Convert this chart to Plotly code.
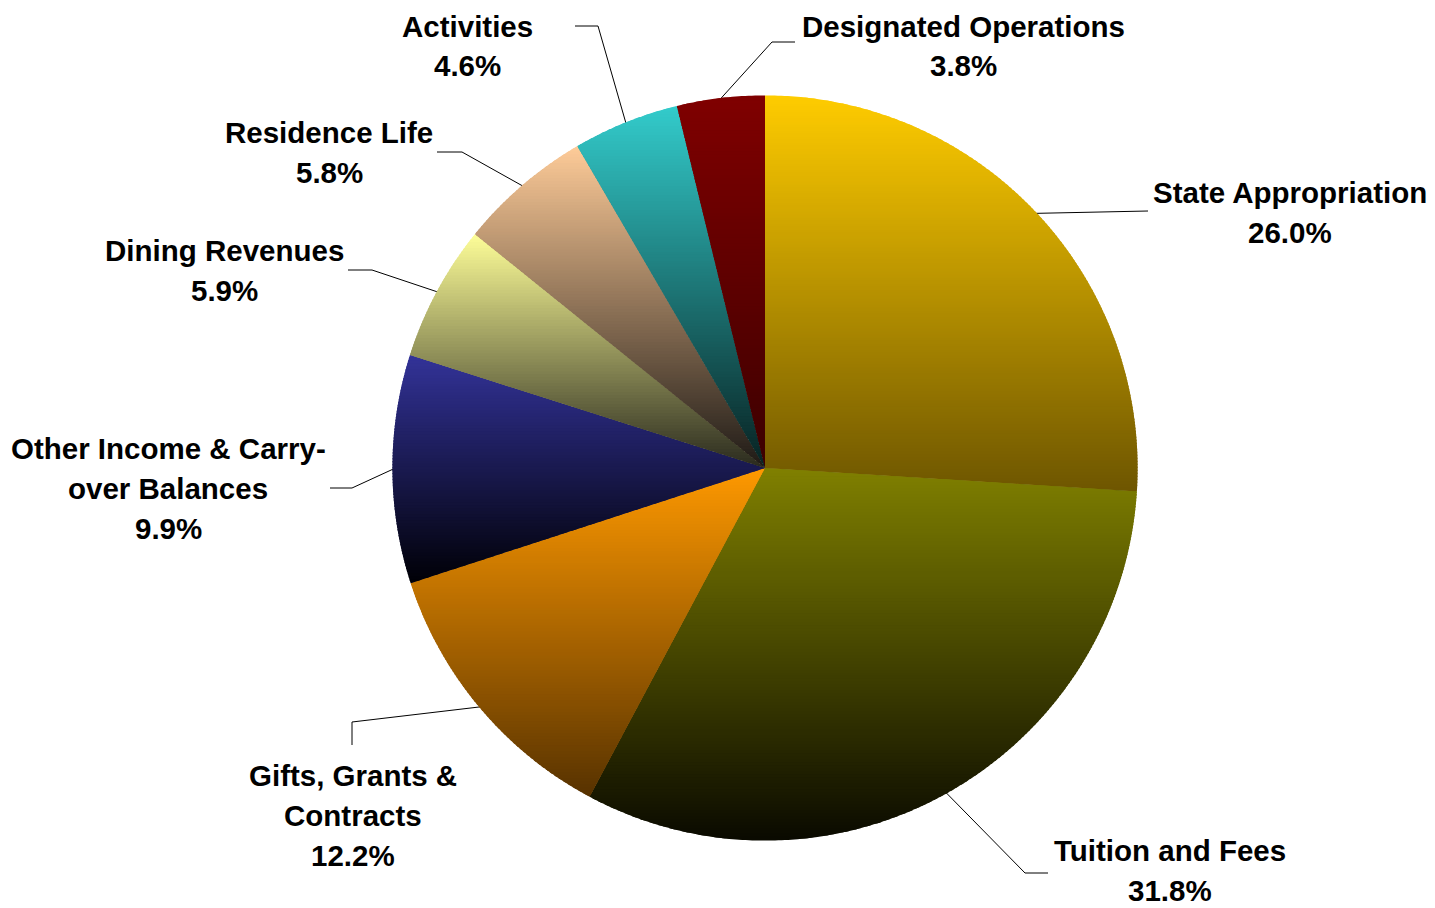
import math
import plotly.graph_objects as go

# ---------------- data ----------------
labels = ["State Appropriation", "Tuition and Fees", "Gifts, Grants & Contracts",
          "Other Income & Carry-over Balances", "Dining Revenues", "Residence Life",
          "Other Auxiliary Activities", "Designated Operations"]
values = [26.0, 31.8, 12.2, 9.9, 5.9, 5.8, 4.6, 3.8]
label_lines = [["State Appropriation"], ["Tuition and Fees"], ["Gifts, Grants &", "Contracts"],
               ["Other Income & Carry-", "over Balances"], ["Dining Revenues"], ["Residence Life"],
               ["Other Auxiliary", "Activities"], ["Designated Operations"]]
top_colors = ["#FFCC00", "#808000", "#FF9900", "#333399", "#FFFF99", "#FFCC99", "#33CCCC", "#800000"]
bottom_colors = ["#6E5600", "#0A0A00", "#573200", "#000006", "#2A2A1E", "#1E1A16", "#082222", "#3C0000"]

# ---------------- layout constants (page pixels) ----------------
PAGE_W, PAGE_H = 1435, 908
OFF = 8  # default body margin of the html page
W, H = PAGE_W - OFF, PAGE_H - OFF
CX, CY, R = 765 - OFF, 468 - OFF, 372
FONT = dict(family="Liberation Sans, Arial, sans-serif", size=29.5, color="black", weight=700)
LINE_GAP = 40
label_x = [1290, 1170, 353, 168, 224, 329, 467, 963]
label_y0 = [192, 850, 775, 448, 250, 132, -14, 26]
leader_elbows = [[(1148, 211)], [(1025, 873), (1048, 873)], [(352, 722), (352, 745)],
                 [(352, 488), (330, 488)], [(372, 270), (348, 270)], [(462, 152), (437, 152)],
                 [(598, 26), (575, 26)], [(772, 42), (795, 42)]]


def hex2rgb(h):
    h = h.lstrip("#")
    return [int(h[i:i + 2], 16) for i in (0, 2, 4)]


def lerp_color(c0, c1, t):
    a, b = hex2rgb(c0), hex2rgb(c1)
    return "rgb(%d,%d,%d)" % tuple(round(a[i] + (b[i] - a[i]) * t) for i in range(3))


def page2data(px, py):
    return (px - OFF - CX) / R, (CY - (py - OFF)) / R


def clip(poly, yv, keep_above):
    out = []
    n = len(poly)
    for i in range(n):
        p, q = poly[i], poly[(i + 1) % n]
        pin = p[1] >= yv if keep_above else p[1] <= yv
        qin = q[1] >= yv if keep_above else q[1] <= yv
        if pin:
            out.append(p)
        if pin != qin:
            t = (yv - p[1]) / (q[1] - p[1])
            out.append((p[0] + t * (q[0] - p[0]), yv))
    return out


fig = go.Figure()

# base pie (library slices)
mid_colors = [lerp_color(a, b, 0.5) for a, b in zip(top_colors, bottom_colors)]
fig.add_trace(go.Pie(
    values=values, labels=labels, sort=False, direction="clockwise", rotation=0,
    marker=dict(colors=mid_colors, line=dict(width=0)), textinfo="none",
    hoverinfo="label+percent", showlegend=False,
    domain=dict(x=[(CX - R) / W, (CX + R) / W], y=[1 - (CY + R) / H, 1 - (CY - R) / H]),
))

# vertical gradient shading of every slice, computed from the values
total = sum(values)
shapes = []
cum = 0.0
rr = 1 + 0.6 / R
band = 3.0 / R
ov = 0.8 / R
mids = []
for i, v in enumerate(values):
    a0 = cum / total * 360.0
    a1 = (cum + v) / total * 360.0
    cum += v
    mids.append((a0 + a1) / 2)
    k = max(8, int((a1 - a0) / 0.5))
    poly = [(0.0, 0.0)]
    for j in range(k + 1):
        th = math.radians(a0 + (a1 - a0) * j / k)
        poly.append((rr * math.sin(th), rr * math.cos(th)))
    ys = [p[1] for p in poly]
    ymax, ymin = max(ys), min(ys)
    nb = max(1, math.ceil((ymax - ymin) / band))
    h = (ymax - ymin) / nb
    for j in range(nb):
        yt = ymax - j * h
        yb = yt - h
        p = clip(poly, yt + ov, False)
        p = clip(p, yb - ov, True)
        if len(p) < 3:
            continue
        path = "M " + " L ".join("%.5f,%.5f" % pt for pt in p) + " Z"
        shapes.append(dict(type="path", path=path, xref="x", yref="y", layer="above",
                           fillcolor=lerp_color(top_colors[i], bottom_colors[i], (j + 0.5) / nb),
                           line=dict(width=0)))

# leader lines
for i in range(len(values)):
    th = math.radians(mids[i])
    xs = [math.sin(th)]
    ys = [math.cos(th)]
    for (ex, ey) in leader_elbows[i]:
        dx, dy = page2data(ex, ey)
        xs.append(dx)
        ys.append(dy)
    fig.add_trace(go.Scatter(x=xs, y=ys, mode="lines", line=dict(color="black", width=1),
                             hoverinfo="skip", showlegend=False))

# labels
annotations = []
for i, v in enumerate(values):
    lines = label_lines[i] + ["%.1f%%" % v]
    for j, t in enumerate(lines):
        px = label_x[i] - OFF
        py = label_y0[i] + j * LINE_GAP - OFF
        annotations.append(dict(text=t, x=px / W, y=1 - py / H,
                                xref="paper", yref="paper", xanchor="center", yanchor="middle",
                                showarrow=False, font=FONT))

fig.update_layout(
    width=W, height=H, margin=dict(l=0, r=0, t=0, b=0),
    paper_bgcolor="white", plot_bgcolor="white",
    xaxis=dict(range=[(0 - CX) / R, (W - CX) / R], domain=[0, 1], visible=False, fixedrange=True),
    yaxis=dict(range=[(CY - H) / R, CY / R], domain=[0, 1], visible=False, fixedrange=True),
    shapes=shapes, annotations=annotations, showlegend=False,
)
fig.write_html("out.html")
